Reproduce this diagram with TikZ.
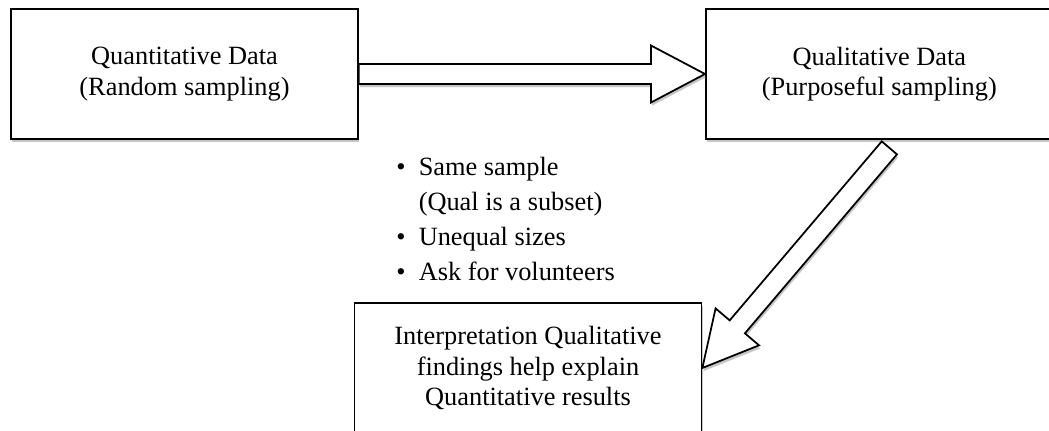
\documentclass[tikz,border=0pt]{standalone}
\usepackage{fontspec}
\setmainfont{Liberation Serif}
\usetikzlibrary{positioning,calc,shadows}

\tikzset{
  databox/.style={draw, line width=1pt, fill=white,
    minimum width=6.94cm, minimum height=2.6cm, align=center,
    font=\fontsize{15}{17.3}\selectfont,
    drop shadow={shadow xshift=0.6pt, shadow yshift=-1.8pt, opacity=0.45, fill=black!50}},
  blockarr/.style={draw, line width=1pt, fill=white, line join=miter,
    drop shadow={shadow xshift=0.6pt, shadow yshift=-1.8pt, opacity=0.45, fill=black!50}},
}

% hollow block arrow from #1 to #2
\newcommand{\blockarrow}[2]{%
  \coordinate (hb) at ($(#2)!1.08cm!(#1)$);
  \draw[blockarr] ($(#1)!0.2cm!90:(#2)$) -- ($(hb)!0.2cm!90:(#2)$)
    -- ($(hb)!0.57cm!90:(#2)$) -- (#2) -- ($(hb)!0.57cm!-90:(#2)$)
    -- ($(hb)!0.2cm!-90:(#2)$) -- ($(#1)!0.2cm!-90:(#2)$) -- cycle;
}

\begin{document}
\begin{tikzpicture}[x=0.02cm,y=-0.02cm,node distance=13.9cm,on grid]
  \clip (0,0) rectangle (1049,430);

  \node[databox] (quant) at (184.5,74) {Quantitative Data\\(Random sampling)};
  \node[databox] (qual) [right = of quant] {Qualitative Data\\(Purposeful sampling)};
  \node[databox] (interp) at (528,368)
    {Interpretation Qualitative\\findings help explain\\Quantitative results};

  \node[anchor=base west, inner sep=0pt, font=\fontsize{15}{20}\selectfont] (notes) at (396,175)
    {\begin{tabular}[t]{@{}l@{\hspace{7.5pt}}l@{}}
      \textbullet & Same sample\\
                  & (Qual is a subset)\\
      \textbullet & Unequal sizes\\
      \textbullet & Ask for volunteers
    \end{tabular}};

  \coordinate (dtail) at ($(qual.south)+(10,8)$);
  \blockarrow{quant.east}{qual.west}
  \blockarrow{dtail}{interp.east}
\end{tikzpicture}
\end{document}
